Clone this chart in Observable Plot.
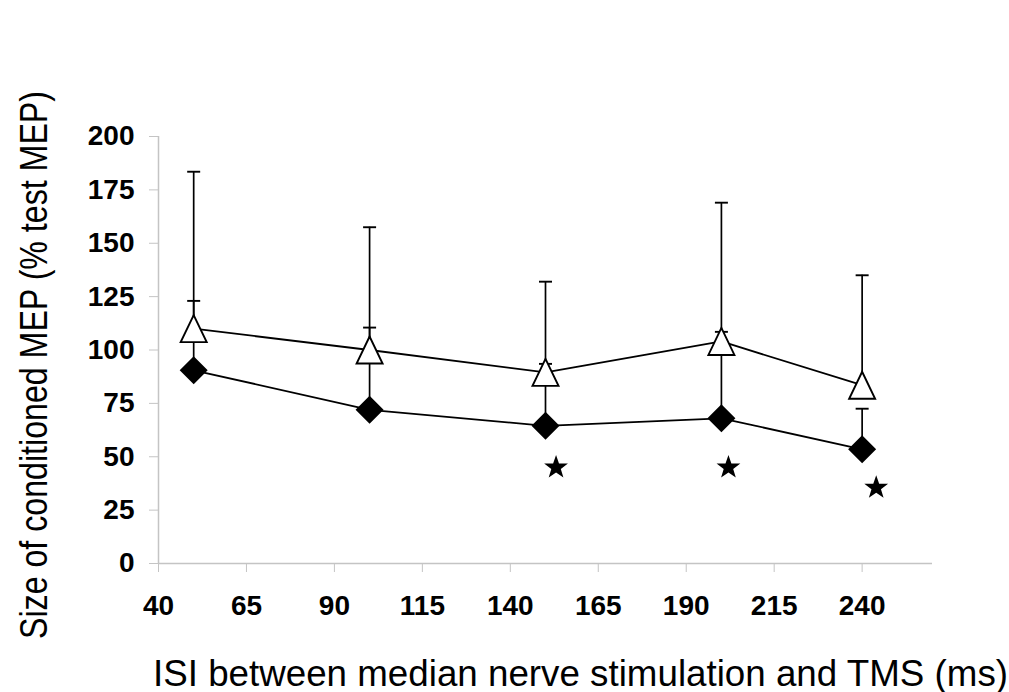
<!DOCTYPE html>
<html>
<head>
<meta charset="utf-8">
<script src="https://cdn.jsdelivr.net/npm/d3@7"></script>
<script src="https://cdn.jsdelivr.net/npm/@observablehq/plot@0.6"></script>
<style>
  html, body { margin: 0; padding: 0; background: #fff; }
  #chart svg { display: block; }
</style>
</head>
<body>
<div id="chart"></div>
<script>
// ---- data ----
const isi = [50, 100, 150, 200, 240];
const triMean = [110, 100, 89.5, 104, 83.5];
const triUpper = [183.5, 157.5, 132, 169, 135];
const diaMean = [90.5, 72, 64.5, 68, 53.5];
const diaUpper = [123, 110.5, 93.5, 108.5, 72.5];
const starIsi = [153, 202, 244];
const starVal = [45, 45, 35.5];
const xTicks = [40, 65, 90, 115, 140, 165, 190, 215, 240];
const yTicks = [0, 25, 50, 75, 100, 125, 150, 175, 200];
const xTitle = "ISI between median nerve stimulation and TMS (ms)";
const yTitle = "Size of conditioned MEP (% test MEP)";

const tri = isi.map((x, i) => ({x, y: triMean[i], hi: triUpper[i]}));
const dia = isi.map((x, i) => ({x, y: diaMean[i], hi: diaUpper[i]}));
const stars = starIsi.map((x, i) => ({x, y: starVal[i]}));

// custom marker shapes
const triSym = {draw(ctx) { ctx.moveTo(0, -13.5); ctx.lineTo(13, 13.5); ctx.lineTo(-13, 13.5); ctx.closePath(); }};
const diaSym = {draw(ctx) { ctx.moveTo(0, -14); ctx.lineTo(14, 0); ctx.lineTo(0, 14); ctx.lineTo(-14, 0); ctx.closePath(); }};
const capSym = {draw(ctx) { ctx.moveTo(-6.5, 0); ctx.lineTo(6.5, 0); }};
const starSym = {draw(ctx) {
  const R = 12.5, r = 5;
  for (let k = 0; k < 10; k++) {
    const a = -Math.PI / 2 + k * Math.PI / 5;
    const rad = k % 2 === 0 ? R : r;
    const px = rad * Math.cos(a), py = rad * Math.sin(a);
    if (k === 0) ctx.moveTo(px, py); else ctx.lineTo(px, py);
  }
  ctx.closePath();
}};

const axisGray = "#c4c4c4";

const chart = Plot.plot({
  width: 1009,
  height: 692,
  marginLeft: 158,
  marginRight: 77,
  marginTop: 136,
  marginBottom: 129,
  style: {fontFamily: "'Liberation Sans', Arial, sans-serif", background: "#fff", overflow: "visible"},
  x: {domain: [40, 260]},
  y: {domain: [0, 200]},
  marks: [
    Plot.ruleY([0], {stroke: axisGray, strokeWidth: 1.5}),
    Plot.ruleX([40], {stroke: axisGray, strokeWidth: 1.5}),
    Plot.axisX({ticks: xTicks, tickSize: 9, tickPadding: 23, fontSize: 28, fontWeight: "bold", stroke: axisGray, fill: "#000", label: null}),
    Plot.axisY({ticks: yTicks, tickSize: 9, tickPadding: 15, fontSize: 28, fontWeight: "bold", stroke: axisGray, fill: "#000", label: null}),
    // error bars
    Plot.ruleX(dia, {x: "x", y1: "y", y2: "hi", stroke: "#000", strokeWidth: 1.7}),
    Plot.ruleX(tri, {x: "x", y1: "y", y2: "hi", stroke: "#000", strokeWidth: 1.7}),
    Plot.dot(dia, {x: "x", y: "hi", symbol: capSym, stroke: "#000", strokeWidth: 1.9, fill: "none"}),
    Plot.dot(tri, {x: "x", y: "hi", symbol: capSym, stroke: "#000", strokeWidth: 1.9, fill: "none"}),
    // lines
    Plot.line(dia, {x: "x", y: "y", stroke: "#000", strokeWidth: 1.8}),
    Plot.line(tri, {x: "x", y: "y", stroke: "#000", strokeWidth: 1.8}),
    // markers
    Plot.dot(dia, {x: "x", y: "y", symbol: diaSym, fill: "#000", stroke: "none"}),
    Plot.dot(tri, {x: "x", y: "y", symbol: triSym, fill: "#fff", stroke: "#000", strokeWidth: 1.9}),
    // significance stars
    Plot.dot(stars, {x: "x", y: "y", symbol: starSym, fill: "#000", stroke: "none"}),
    // axis titles
    Plot.text([xTitle], {frameAnchor: "bottom", dx: 35, dy: 122, fontSize: 36, fill: "#000", textAnchor: "middle"}),
    Plot.text([yTitle], {frameAnchor: "left", dx: -124, dy: 15, rotate: -90, fontSize: 38, fill: "#000", textAnchor: "middle"})
  ]
});

document.getElementById("chart").appendChild(chart);

// condense axis titles to match the reference's narrow lettering
chart.querySelectorAll("text").forEach(t => {
  if (t.textContent === xTitle) { t.setAttribute("textLength", 855); t.setAttribute("lengthAdjust", "spacingAndGlyphs"); }
  if (t.textContent === yTitle) { t.setAttribute("textLength", 548); t.setAttribute("lengthAdjust", "spacingAndGlyphs"); }
});
</script>
</body>
</html>
